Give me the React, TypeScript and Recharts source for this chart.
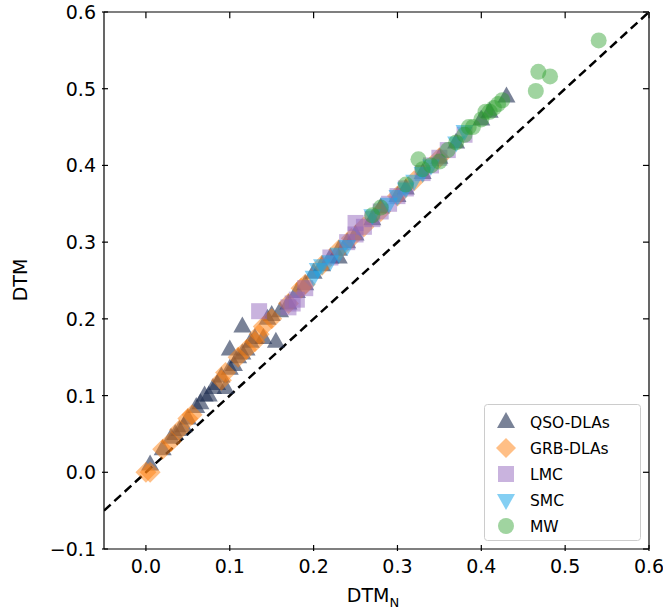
import React from "react";
import { ScatterChart, Scatter, XAxis, YAxis, ReferenceLine } from "recharts";

const qso = [[0.005,0.01],[0.02,0.03],[0.03,0.045],[0.035,0.05],[0.04,0.055],[0.045,0.06],[0.05,0.07],[0.06,0.085],[0.065,0.09],[0.07,0.1],[0.075,0.1],[0.08,0.11],[0.085,0.115],[0.09,0.125],[0.1,0.135],[0.105,0.14],[0.11,0.15],[0.115,0.155],[0.12,0.16],[0.125,0.17],[0.13,0.175],[0.1,0.16],[0.115,0.19],[0.155,0.17],[0.145,0.2],[0.15,0.205],[0.16,0.21],[0.17,0.22],[0.18,0.235],[0.19,0.245],[0.2,0.26],[0.21,0.27],[0.22,0.28],[0.23,0.29],[0.24,0.3],[0.25,0.31],[0.27,0.33],[0.28,0.345],[0.3,0.36],[0.31,0.37],[0.33,0.39],[0.35,0.41],[0.37,0.43],[0.4,0.46],[0.41,0.47],[0.43,0.49],[0.095,0.11],[0.14,0.175],[0.23,0.28]];
const grb = [[0,0],[0.005,0.0],[0.02,0.03],[0.03,0.04],[0.04,0.055],[0.05,0.07],[0.055,0.075],[0.09,0.12],[0.095,0.13],[0.11,0.15],[0.12,0.16],[0.13,0.17],[0.135,0.18],[0.14,0.19],[0.15,0.2],[0.17,0.22],[0.185,0.24],[0.19,0.245],[0.21,0.27],[0.23,0.29],[0.245,0.305],[0.26,0.32],[0.28,0.34],[0.3,0.36],[0.32,0.38],[0.35,0.41]];
const lmc = [[0.135,0.21],[0.17,0.215],[0.175,0.22],[0.18,0.225],[0.19,0.24],[0.22,0.28],[0.24,0.3],[0.25,0.31],[0.26,0.32],[0.27,0.33],[0.28,0.34],[0.29,0.35],[0.3,0.36],[0.31,0.37],[0.33,0.39],[0.34,0.4],[0.35,0.41],[0.36,0.42],[0.38,0.44],[0.25,0.325]];
const smc = [[0.2,0.255],[0.205,0.265],[0.21,0.27],[0.22,0.275],[0.23,0.285],[0.24,0.295],[0.27,0.335],[0.29,0.35],[0.3,0.36],[0.31,0.37],[0.32,0.38],[0.33,0.39],[0.34,0.4],[0.38,0.445],[0.37,0.43]];
const mw = [[0.27,0.335],[0.28,0.345],[0.31,0.375],[0.325,0.408],[0.33,0.395],[0.34,0.4],[0.35,0.405],[0.36,0.42],[0.37,0.43],[0.38,0.44],[0.385,0.45],[0.39,0.45],[0.4,0.46],[0.405,0.47],[0.41,0.47],[0.415,0.475],[0.42,0.48],[0.425,0.485],[0.465,0.497],[0.468,0.522],[0.482,0.516],[0.54,0.563]];

const xTicks = [0, 0.1, 0.2, 0.3, 0.4, 0.5, 0.6];
const yTicks = [-0.1, 0, 0.1, 0.2, 0.3, 0.4, 0.5, 0.6];

const toObj = (a: number[][]) => a.map(([x, y]) => ({ x, y }));
const FONT = "DejaVu Sans";
const fmt = (v: number) => (v < 0 ? "\u2212" : "") + Math.abs(v).toFixed(1);

const tri = (c: string) => (p: any) => <path d={`M${p.cx},${p.cy - 10} L${p.cx + 9},${p.cy + 6} L${p.cx - 9},${p.cy + 6} Z`} fill={c} fillOpacity={0.6} />;
const dia = (c: string) => (p: any) => <path d={`M${p.cx},${p.cy - 10.5} L${p.cx + 10.5},${p.cy} L${p.cx},${p.cy + 10.5} L${p.cx - 10.5},${p.cy} Z`} fill={c} fillOpacity={0.5} />;
const sq = (c: string) => (p: any) => <rect x={p.cx - 8} y={p.cy - 8} width={16} height={16} fill={c} fillOpacity={0.5} />;
const dtri = (c: string) => (p: any) => <path d={`M${p.cx},${p.cy + 10} L${p.cx + 9},${p.cy - 6} L${p.cx - 9},${p.cy - 6} Z`} fill={c} fillOpacity={0.55} />;
const circ = (c: string) => (p: any) => <circle cx={p.cx} cy={p.cy} r={8} fill={c} fillOpacity={0.45} />;

const C = { qso: "#1f2f52", grb: "#ff7f0e", lmc: "#9467bd", smc: "#1fa8ea", mw: "#2ca02c" };

const XTick = (p: any) => (
  <g>
    <line x1={p.x} x2={p.x} y1={p.y} y2={p.y - 6} stroke="#000" strokeWidth={1.2} />
    <text x={p.x} y={p.y + 22} textAnchor="middle" fontSize={19} fontFamily={FONT}>{fmt(p.payload.value)}</text>
  </g>
);
const YTick = (p: any) => (
  <g>
    <line x1={p.x} x2={p.x + 6} y1={p.y} y2={p.y} stroke="#000" strokeWidth={1.2} />
    <text x={p.x - 6} y={p.y + 7} textAnchor="end" fontSize={19} fontFamily={FONT}>{fmt(p.payload.value)}</text>
  </g>
);

const legendItems = [
  { name: "QSO-DLAs", s: (x: number, y: number) => <path d={`M${x},${y - 10} L${x + 9},${y + 6} L${x - 9},${y + 6} Z`} fill={C.qso} fillOpacity={0.6} /> },
  { name: "GRB-DLAs", s: (x: number, y: number) => <path d={`M${x},${y - 10} L${x + 10},${y} L${x},${y + 10} L${x - 10},${y} Z`} fill={C.grb} fillOpacity={0.5} /> },
  { name: "LMC", s: (x: number, y: number) => <rect x={x - 8} y={y - 8} width={16} height={16} fill={C.lmc} fillOpacity={0.5} /> },
  { name: "SMC", s: (x: number, y: number) => <path d={`M${x},${y + 10} L${x + 9},${y - 6} L${x - 9},${y - 6} Z`} fill={C.smc} fillOpacity={0.55} /> },
  { name: "MW", s: (x: number, y: number) => <circle cx={x} cy={y} r={8} fill={C.mw} fillOpacity={0.45} /> },
];

export default function App() {
  return (
    <div style={{ position: "fixed", left: 0, top: 0, width: 663, height: 614, background: "#fff", fontFamily: FONT, overflow: "hidden" }}>
      <ScatterChart width={663} height={614} margin={{ top: 12, right: 14, bottom: 0, left: 0 }} style={{ overflow: "visible" }}>
        <XAxis type="number" dataKey="x" domain={[-0.05, 0.6]} ticks={xTicks} height={65} tick={<XTick />} tickLine={false} tickSize={0} stroke="#000" strokeWidth={1.2} allowDataOverflow />
        <YAxis type="number" dataKey="y" domain={[-0.1, 0.6]} ticks={yTicks} width={104} tick={<YTick />} tickLine={false} tickSize={0} stroke="#000" strokeWidth={1.2} allowDataOverflow />
        <Scatter data={toObj(qso)} shape={tri(C.qso)} isAnimationActive={false} />
        <Scatter data={toObj(grb)} shape={dia(C.grb)} isAnimationActive={false} />
        <Scatter data={toObj(lmc)} shape={sq(C.lmc)} isAnimationActive={false} />
        <Scatter data={toObj(smc)} shape={dtri(C.smc)} isAnimationActive={false} />
        <Scatter data={toObj(mw)} shape={circ(C.mw)} isAnimationActive={false} />
        <ReferenceLine segment={[{ x: -0.05, y: -0.05 }, { x: 0.6, y: 0.6 }]} stroke="#000" strokeWidth={2.5} strokeDasharray="9 5" ifOverflow="hidden" />
        <ReferenceLine y={0.6} stroke="#000" strokeWidth={1.2} />
        <ReferenceLine x={0.6} stroke="#000" strokeWidth={1.2} />
        {xTicks.map((t) => (
          <ReferenceLine key={"tx" + t} segment={[{ x: t, y: 0.6 }, { x: t, y: 0.592 }]} stroke="#000" strokeWidth={1.2} />
        ))}
        {yTicks.map((t) => (
          <ReferenceLine key={"ty" + t} segment={[{ x: 0.6, y: t }, { x: 0.5928, y: t }]} stroke="#000" strokeWidth={1.2} />
        ))}
      </ScatterChart>
      <div style={{ position: "absolute", left: 20, top: 280, transform: "translate(-50%,-50%) rotate(-90deg)", fontSize: 19 }}>DTM</div>
      <div style={{ position: "absolute", left: 373, top: 584, transform: "translateX(-50%)", fontSize: 19, whiteSpace: "nowrap" }}>DTM<sub style={{ fontSize: 13 }}>N</sub></div>
      <svg style={{ position: "absolute", left: 484, top: 404 }} width={158} height={138}>
        <rect x={0.5} y={0.5} width={156} height={136} rx={3} fill="#fff" fillOpacity={0.8} stroke="#ccc" />
        {legendItems.map((it, i) => (
          <g key={it.name}>
            {it.s(22, 18 + i * 26)}
            <text x={46} y={24 + i * 26} fontSize={15.5} fontFamily={FONT}>{it.name}</text>
          </g>
        ))}
      </svg>
    </div>
  );
}
